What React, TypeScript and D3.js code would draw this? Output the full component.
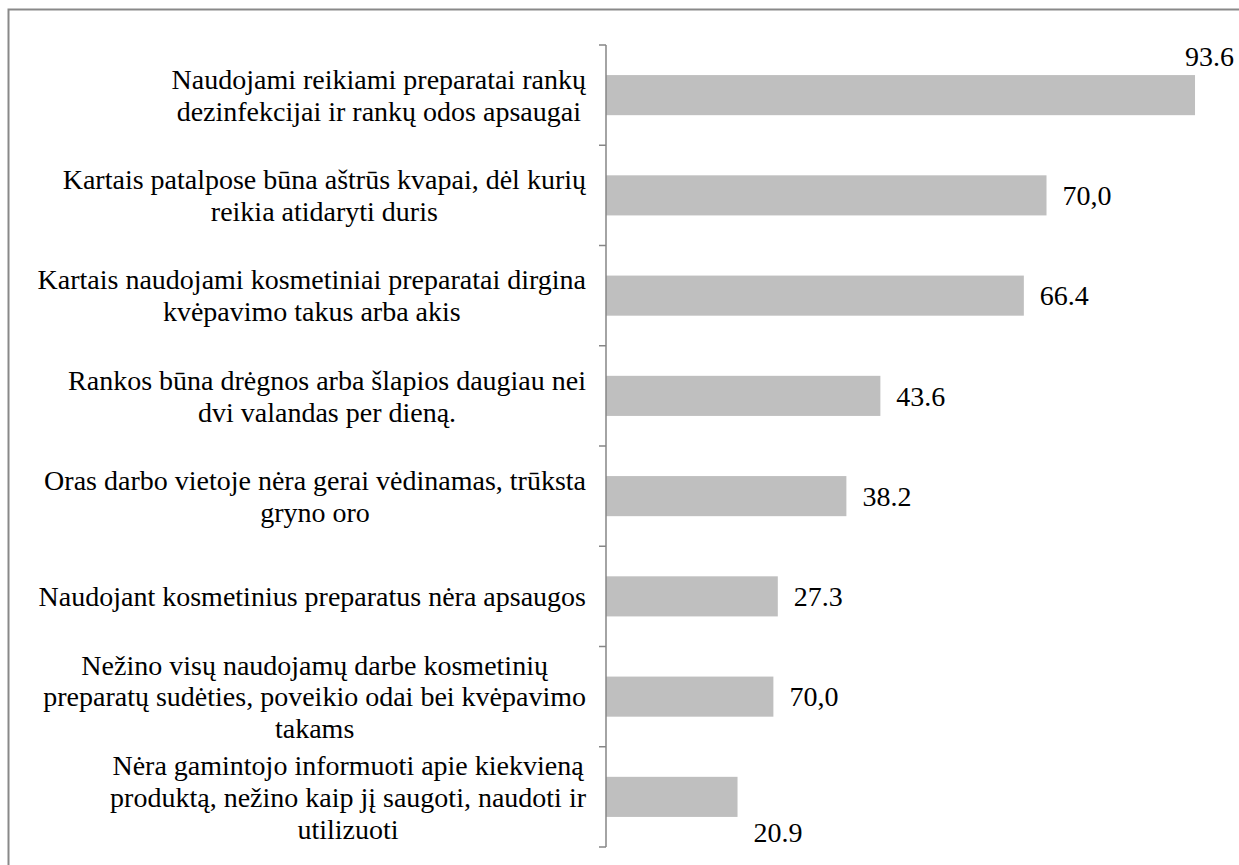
import React, { useEffect, useRef } from "react";
import * as d3 from "d3";

const categories: string[][] = [
  ["Naudojami reikiami preparatai rankų", "dezinfekcijai ir rankų odos apsaugai"],
  ["Kartais patalpose būna aštrūs kvapai, dėl kurių", "reikia atidaryti duris"],
  ["Kartais naudojami kosmetiniai preparatai dirgina", "kvėpavimo takus arba akis"],
  ["Rankos būna drėgnos arba šlapios daugiau nei", "dvi valandas per dieną."],
  ["Oras darbo vietoje nėra gerai vėdinamas, trūksta", "gryno oro"],
  ["Naudojant kosmetinius preparatus nėra apsaugos"],
  ["Nežino visų naudojamų darbe kosmetinių", "preparatų sudėties, poveikio odai bei kvėpavimo", "takams"],
  ["Nėra gamintojo informuoti apie kiekvieną", "produktą, nežino kaip jį saugoti, naudoti ir", "utilizuoti"],
];

const values: number[] = [93.6, 70.0, 66.4, 43.6, 38.2, 27.3, 26.6, 20.9];
const valueLabels: string[] = ["93.6", "70,0", "66.4", "43.6", "38.2", "27.3", "70,0", "20.9"];
const labelPlacement: string[] = ["above", "right", "right", "right", "right", "right", "right", "below"];

const W = 1239;
const H = 865;
const FONT = "Liberation Serif, Tinos, Times New Roman, DejaVu Serif, serif";
const FS = 28;

export default function App() {
  const ref = useRef<SVGSVGElement>(null);

  useEffect(() => {
    const svg = d3.select(ref.current);
    svg.selectAll("*").remove();

    const axisX = 606;
    const x = d3.scaleLinear().domain([0, 100]).range([axisX, 1235.3]);
    const ids = categories.map((_, i) => String(i));
    const y = d3.scaleBand<string>().domain(ids).range([45, 847]).paddingInner(0.6).paddingOuter(0.3);
    const step = y.step();

    svg.append("rect")
      .attr("x", 8.5).attr("y", 9.5).attr("width", 1300).attr("height", 1000)
      .attr("fill", "none").attr("stroke", "#898989").attr("stroke-width", 2);

    svg.selectAll("rect.bar").data(values).enter().append("rect")
      .attr("class", "bar")
      .attr("x", axisX)
      .attr("y", (_, i) => y(ids[i])!)
      .attr("width", (d) => x(d) - axisX)
      .attr("height", y.bandwidth())
      .attr("fill", "#bfbfbf");

    svg.append("line")
      .attr("x1", axisX).attr("x2", axisX).attr("y1", 45).attr("y2", 847)
      .attr("stroke", "#868686").attr("stroke-width", 1.5);
    d3.range(categories.length + 1).forEach((i) => {
      const ty = 45 + i * step;
      svg.append("line")
        .attr("x1", axisX - 7).attr("x2", axisX).attr("y1", ty).attr("y2", ty)
        .attr("stroke", "#868686").attr("stroke-width", 1.5);
    });

    const lineH = FS * 1.14;
    const right = 586;
    categories.forEach((lines, i) => {
      const cy = y(ids[i])! + y.bandwidth() / 2;
      const g = svg.append("g");
      const texts = lines.map((ln, j) =>
        g.append("text")
          .style("font-family", FONT).style("font-size", FS + "px").attr("fill", "#000")
          .attr("text-anchor", "middle")
          .attr("dy", "0.35em")
          .attr("y", cy + (j - (lines.length - 1) / 2) * lineH)
          .text(ln)
      );
      let maxW = 0;
      texts.forEach((t) => {
        const node = t.node() as SVGTextElement;
        maxW = Math.max(maxW, node.getComputedTextLength());
      });
      texts.forEach((t) => t.attr("x", right - maxW / 2));
    });

    values.forEach((v, i) => {
      const top = y(ids[i])!;
      const bw = y.bandwidth();
      const p = labelPlacement[i];
      let tx = x(v) + 16;
      let ty = top + bw / 2;
      if (p === "above") { tx = x(v) - 10; ty = top - 19; }
      if (p === "below") { ty = top + bw + 15; }
      svg.append("text")
        .style("font-family", FONT).style("font-size", FS + "px").attr("fill", "#000")
        .attr("x", tx).attr("y", ty).attr("dy", "0.35em")
        .text(valueLabels[i]);
    });
  }, []);

  return (
    <svg
      ref={ref}
      width={W}
      height={H}
      style={{ position: "fixed", left: 0, top: 0, background: "#fff" }}
    />
  );
}
